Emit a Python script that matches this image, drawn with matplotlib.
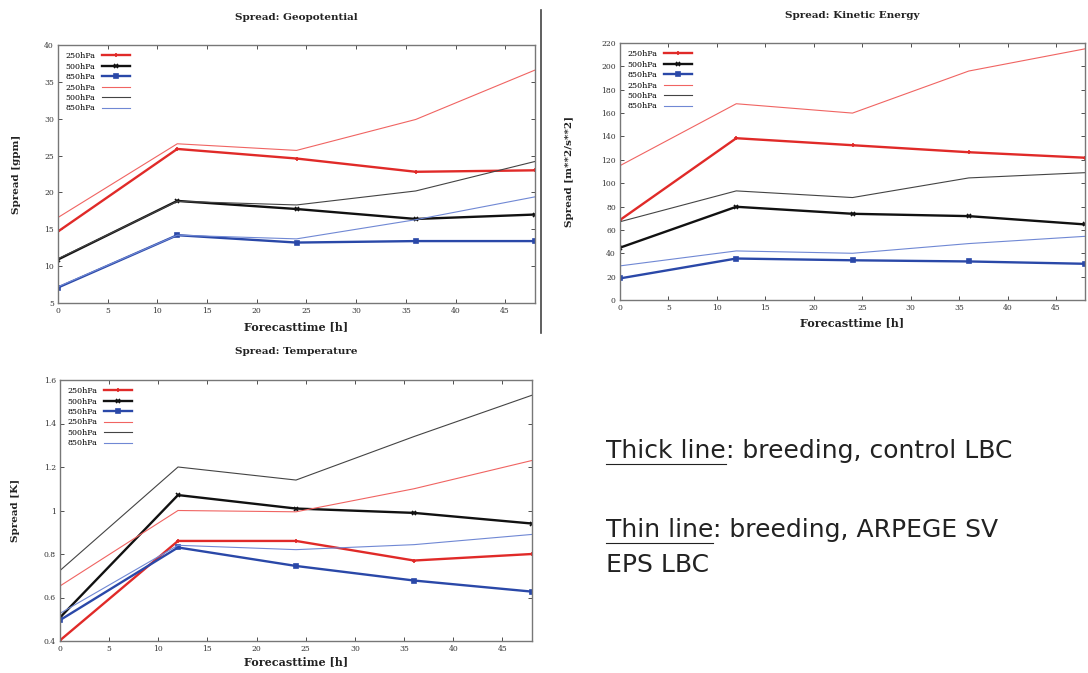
import numpy as np
import matplotlib
matplotlib.use('Agg')
import matplotlib.pyplot as plt
from matplotlib.lines import Line2D

# forecast times [h]
hours = [0, 12, 24, 36, 48]
levels_geo = ['250hPa', '500hPa', '850hPa']

# Geopotential spread [gpm]  (thick = breeding control LBC, thin = ARPEGE SV EPS LBC)
geo_thick_250 = [14.7, 25.9, 24.6, 22.8, 23.0]
geo_thick_500 = [10.9, 18.85, 17.75, 16.4, 17.0]
geo_thick_850 = [7.1, 14.2, 13.2, 13.4, 13.4]
geo_thin_250 = [16.6, 26.6, 25.7, 29.9, 36.6]
geo_thin_500 = [11.0, 18.8, 18.3, 20.2, 24.2]
geo_thin_850 = [7.2, 14.2, 13.7, 16.3, 19.4]

# Kinetic energy spread [m**2/s**2]
ke_thick_250 = [68.5, 138.5, 132.5, 126.5, 121.8]
ke_thick_500 = [44.8, 79.8, 73.8, 71.8, 64.7]
ke_thick_850 = [18.5, 35.5, 34.0, 33.0, 31.0]
ke_thin_250 = [115.0, 168.0, 160.0, 196.0, 215.0]
ke_thin_500 = [67.0, 93.4, 87.7, 104.5, 109.0]
ke_thin_850 = [29.2, 42.0, 40.0, 48.3, 54.5]

# Temperature spread [K]
t_thick_250 = [0.403, 0.86, 0.86, 0.77, 0.80]
t_thick_500 = [0.508, 1.071, 1.009, 0.989, 0.94]
t_thick_850 = [0.496, 0.83, 0.745, 0.678, 0.627]
t_thin_250 = [0.653, 1.0, 0.994, 1.10, 1.23]
t_thin_500 = [0.724, 1.2, 1.14, 1.34, 1.53]
t_thin_850 = [0.527, 0.84, 0.82, 0.843, 0.89]

W, H = 1088, 673
fig = plt.figure(figsize=(W/100, H/100), dpi=100)
plt.rcParams['font.family'] = ['DejaVu Serif']

def px_axes(l, t, r, b):
    return fig.add_axes([l/W, 1-b/H, (r-l)/W, (b-t)/H])

red_k, black_k, blue_k = '#e02a28', '#111111', '#2a48a8'
red_n, black_n, blue_n = '#f06462', '#444444', '#7088d4'

def panel(ax, thick, thin, ylim, yticks, ytl, title, ylabel, title_y, xl_y, yl_x):
    markers = ['+', 'x', 's']
    cols_k = [red_k, black_k, blue_k]
    cols_n = [red_n, black_n, blue_n]
    for vals, c, m, lab in zip(thick, cols_k, markers, levels_geo):
        ax.plot(hours, vals, color=c, lw=1.7, marker=m, ms=3.2, mew=1.2, label=lab)
    for vals, c, lab in zip(thin, cols_n, levels_geo):
        ax.plot(hours, vals, color=c, lw=0.8, label=lab)
    ax.set_xlim(0, 48)
    ax.set_ylim(*ylim)
    ax.set_xticks(range(0, 50, 5))
    ax.set_yticks(yticks)
    ax.set_yticklabels(ytl)
    ax.tick_params(direction='in', length=3, width=0.6, top=True, right=True,
                   labelsize=5.5, colors='#333333', pad=3)
    for s in ax.spines.values():
        s.set_color('#777777')
        s.set_linewidth(1.0)
    ax.legend(loc='upper left', frameon=False, fontsize=5.8, markerfirst=False,
              handlelength=3.5, labelspacing=0.3, borderaxespad=0.5,
              handletextpad=0.8)
    pos = ax.get_position()
    cx = (pos.x0 + pos.x1) / 2
    fig.text(cx, 1 - title_y/H, title, ha='center', va='center', fontsize=7.5,
             fontweight='bold', color='#222222')
    fig.text(cx, 1 - xl_y/H, 'Forecasttime [h]', ha='center', va='center',
             fontsize=8, fontweight='bold', color='#222222')
    fig.text(yl_x/W, (pos.y0 + pos.y1)/2, ylabel, ha='center', va='center',
             rotation=90, fontsize=7.5, fontweight='bold', color='#222222')

ax1 = px_axes(58, 45, 535, 303)
panel(ax1, [geo_thick_250, geo_thick_500, geo_thick_850],
      [geo_thin_250, geo_thin_500, geo_thin_850],
      (5, 40), range(5, 41, 5), [str(v) for v in range(5, 41, 5)],
      'Spread: Geopotential', 'Spread [gpm]', 18, 327, 17)

ax2 = px_axes(620, 43, 1085, 300)
panel(ax2, [ke_thick_250, ke_thick_500, ke_thick_850],
      [ke_thin_250, ke_thin_500, ke_thin_850],
      (0, 220), range(0, 221, 20), [str(v) for v in range(0, 221, 20)],
      'Spread: Kinetic Energy', 'Spread [m**2/s**2]', 16, 323, 570)

ax3 = px_axes(60, 380, 532, 641)
tt = [0.4, 0.6, 0.8, 1.0, 1.2, 1.4, 1.6]
panel(ax3, [t_thick_250, t_thick_500, t_thick_850],
      [t_thin_250, t_thin_500, t_thin_850],
      (0.4, 1.6), tt, ['0.4', '0.6', '0.8', '1', '1.2', '1.4', '1.6'],
      'Spread: Temperature', 'Spread [K]', 352, 662, 15)

# separator line right of first panel
fig.add_artist(Line2D([541/W, 541/W], [1-10/H, 1-333/H], color='#444444', lw=1.2))

# explanation text with underlined keywords
fs = 18
fam = 'DejaVu Sans'
def underlined(x, y, key, rest):
    t1 = fig.text(x/W, 1-y/H, key, fontsize=fs, family=fam, color='#222222',
                  va='baseline')
    fig.canvas.draw()
    bb = t1.get_window_extent()
    fig.add_artist(Line2D([bb.x0/W, bb.x1/W], [(bb.y0 - 1)/H, (bb.y0 - 1)/H],
                          color='#222222', lw=0.8))
    fig.text(bb.x1/W, 1-y/H, rest, fontsize=fs, family=fam, color='#222222',
             va='baseline')

underlined(606, 458, 'Thick line', ': breeding, control LBC')
underlined(606, 537, 'Thin line', ': breeding, ARPEGE SV')
fig.text(606/W, 1-572/H, 'EPS LBC', fontsize=fs, family=fam, color='#222222',
         va='baseline')

plt.savefig('out.png', dpi=100)
